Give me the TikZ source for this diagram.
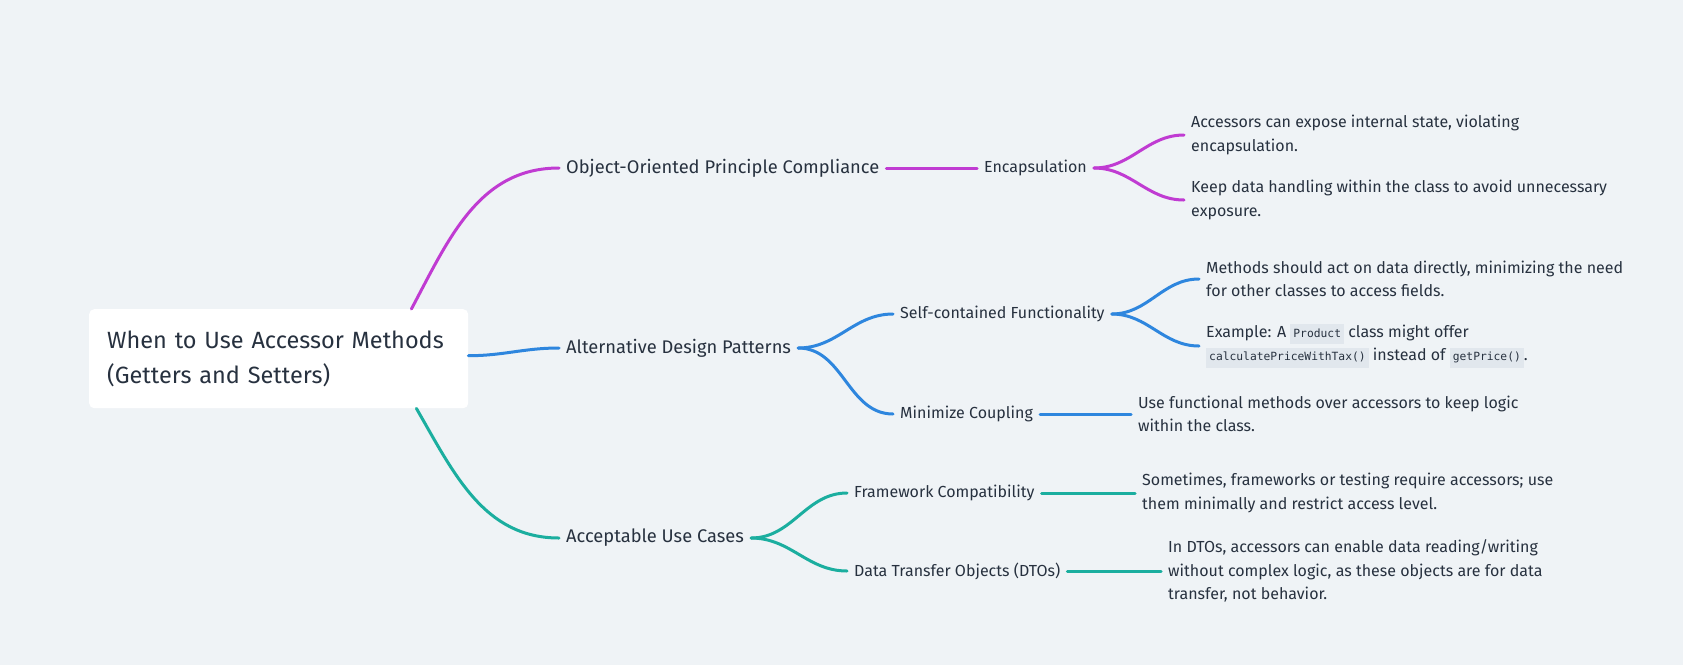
\documentclass[tikz,border=0pt]{standalone}
\usepackage{fontspec}
\setmainfont{Fira Sans}
\setmonofont{DejaVu Sans Mono}
\usetikzlibrary{positioning}
\definecolor{Ink}{HTML}{27313F}
\definecolor{Paper}{HTML}{EFF3F6}
\definecolor{Magenta}{HTML}{C03BD2}
\definecolor{Azure}{HTML}{2E86DE}
\definecolor{Teal}{HTML}{1BAE9F}
\definecolor{CodeBg}{HTML}{E1E7ED}
\newcommand{\codebit}[1]{{\setlength{\fboxsep}{3pt}\colorbox{CodeBg}{\ttfamily\fontsize{11.3}{13}\selectfont\rule[-4pt]{0pt}{14pt}#1}}}
\tikzset{
  link/.style={line width=3pt,line cap=round},
  rootbox/.style={fill=white,rounded corners=5pt,text=Ink,font=\fontsize{23.5}{35.5}\selectfont,
    align=left,text width=343pt,minimum height=99pt,inner xsep=18pt,anchor=north west},
  branch/.style={text=Ink,font=\fontsize{18.3}{21}\selectfont,inner xsep=7pt,inner ysep=2pt,anchor=west},
  topic/.style={text=Ink,font=\fontsize{16}{19}\selectfont,inner xsep=7pt,inner ysep=2pt,anchor=west},
  leaf/.style={text=Ink,font=\fontsize{16}{23.5}\selectfont,align=left,inner xsep=7pt,inner ysep=0pt,anchor=west}
}

\begin{document}
\begin{tikzpicture}[x=1pt,y=-1pt]
  \fill[Paper] (0,0) rectangle (1683,665);
  \node[rootbox] (root) at (89,309) {When to Use Accessor Methods\\(Getters and Setters)};
  % object-oriented branch
  \node[branch] (oop) at (559,168) {Object-Oriented Principle Compliance};
  \node[topic] (encap) at (977,168) {Encapsulation};
  \node[leaf] (encapA) at (1184,135) {Accessors can expose internal state, violating\\encapsulation.};
  \node[leaf] (encapB) at (1184,200) {Keep data handling within the class to avoid unnecessary\\exposure.};
  % design patterns branch
  \node[branch] (alt) at (559,348) {Alternative Design Patterns};
  \node[topic] (selfc) at (893,314) {Self-contained Functionality};
  \node[leaf] (selfcA) at (1199,279) {Methods should act on data directly, minimizing the need\\for other classes to access fields.};
  \node[leaf] (selfcB) at (1199,346) {Example: A \codebit{Product} class might offer\\\codebit{calculatePriceWithTax()} instead of \codebit{getPrice()}.};
  \node[topic] (minc) at (893,414) {Minimize Coupling};
  \node[leaf] (mincA) at (1131,414) {Use functional methods over accessors to keep logic\\within the class.};
  % use cases branch
  \node[branch] (acc) at (559,538) {Acceptable Use Cases};
  \node[topic] (frame) at (847,493) {Framework Compatibility};
  \node[leaf] (frameA) at (1135,493) {Sometimes, frameworks or testing require accessors; use\\them minimally and restrict access level.};
  \node[topic] (dto) at (847,571) {Data Transfer Objects (DTOs)};
  \node[leaf] (dtoA) at (1161,571) {In DTOs, accessors can enable data reading/writing\\without complex logic, as these objects are for data\\transfer, not behavior.};

  \draw[link,Magenta] ([xshift=-57pt]root.north east) to[out=62,in=180] (oop.west);
  \draw[link,Magenta] (oop.east) -- (encap.west);
  \draw[link,Magenta] (encap.east) to[out=0,in=180] (encapA.west);
  \draw[link,Magenta] (encap.east) to[out=0,in=180] (encapB.west);

  \draw[link,Azure] ([yshift=3pt]root.east) to[out=0,in=180] (alt.west);
  \draw[link,Azure] (alt.east) to[out=0,in=180] (selfc.west);
  \draw[link,Azure] (alt.east) to[out=0,in=180] (minc.west);
  \draw[link,Azure] (selfc.east) to[out=0,in=180] (selfcA.west);
  \draw[link,Azure] (selfc.east) to[out=0,in=180] (selfcB.west);
  \draw[link,Azure] (minc.east) -- (mincA.west);

  \draw[link,Teal] ([xshift=-52pt]root.south east) to[out=-60,in=180] (acc.west);
  \draw[link,Teal] (acc.east) to[out=0,in=180] (frame.west);
  \draw[link,Teal] (acc.east) to[out=0,in=180] (dto.west);
  \draw[link,Teal] (frame.east) -- (frameA.west);
  \draw[link,Teal] (dto.east) -- (dtoA.west);
\end{tikzpicture}
\end{document}
